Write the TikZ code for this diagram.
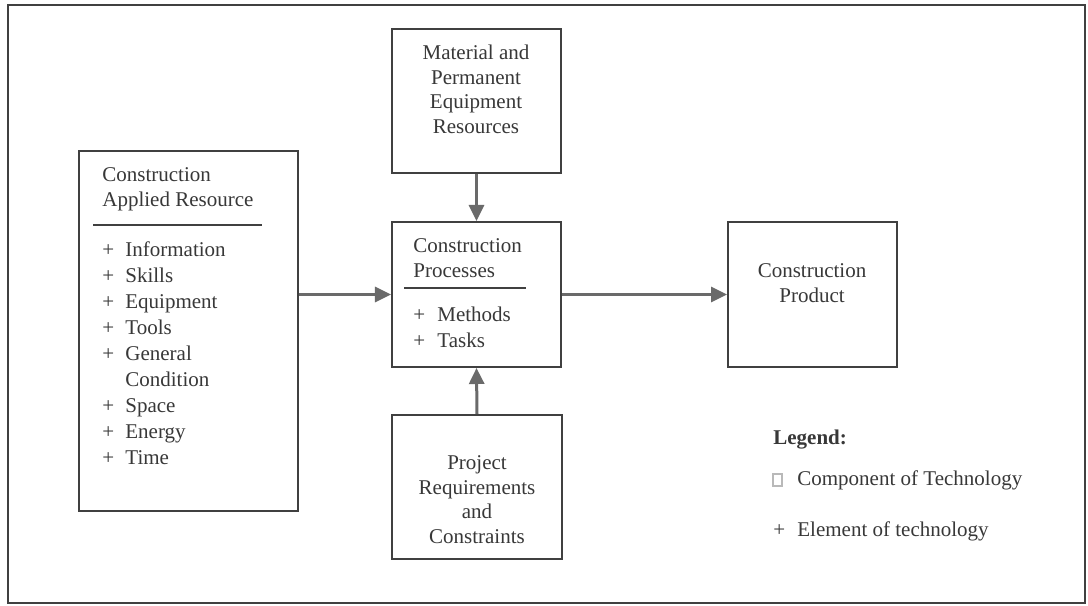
\documentclass[tikz,border=0pt]{standalone}
\usepackage{fontspec}
\setmainfont{Liberation Serif}
\usetikzlibrary{arrows.meta}
\definecolor{ink}{HTML}{383838}
\definecolor{edge}{HTML}{404040}
\definecolor{flow}{HTML}{6A6A6A}
\newcommand\plusmark[1]{\makebox[#1][l]{+}}
\begin{document}
\begin{tikzpicture}[x=0.5bp,y=-0.5bp,
  every node/.style={font=\fontsize{10.5bp}{12.6bp}\selectfont, text=ink, inner sep=0pt},
  box/.style={draw=edge, line width=1bp, rectangle},
  lbl/.style={anchor=base west},
  ctr/.style={anchor=base},
  flowarrow/.style={draw=flow, line width=1.5bp, -{Triangle[length=8bp,width=7.5bp]}},
  rule/.style={draw=edge, line width=0.9bp}]

% page and outer frame
\fill[white] (0,0) rectangle (1088,606);
\useasboundingbox (0,0) rectangle (1088,606);
\draw[edge, line width=1bp] (8,5) rectangle (1085,603);

% boxes
\node[box, minimum width=109.5bp, minimum height=180bp] (car) at (188.5,331) {};
\node[box, minimum width=84.5bp, minimum height=72bp] (mat) at (476.5,101) {};
\node[box, minimum width=84.5bp, minimum height=72.5bp] (proc) at (476.5,294.5) {};
\node[box, minimum width=85bp, minimum height=72bp] (proj) at (477,487) {};
\node[box, minimum width=84.5bp, minimum height=72.5bp] (prod) at (812.5,294.5) {};

% construction applied resource
\foreach \t/\y [count=\i] in {Construction/182, Applied Resource/207}
  \node[lbl] (carhead\i) at (102,\y) {\t};
\draw[rule] (93,225) -- (262,225);
\foreach \t/\y [count=\i] in {Information/257, Skills/283, Equipment/309, Tools/335, General/361, Space/413, Energy/439, Time/465}
  \node[lbl] (caritem\i) at (102,\y) {\plusmark{11.5bp}\t};
\node[lbl] (carcond) at (125,387) {Condition};

% construction processes
\foreach \t/\y [count=\i] in {Construction/253, Processes/278}
  \node[lbl] (prochead\i) at (413,\y) {\t};
\draw[rule] (404,288) -- (526,288);
\foreach \t/\y [count=\i] in {Methods/322, Tasks/348}
  \node[lbl] (procitem\i) at (413,\y) {\plusmark{12bp}\t};

% material and permanent equipment
\foreach \t/\y [count=\i] in {Material and/60, Permanent/84.5, Equipment/109, Resources/133.5}
  \node[ctr] (mattext\i) at (476,\y) {\t};

% project requirements
\foreach \t/\y [count=\i] in {Project/470, Requirements/494.5, and/519, Constraints/543.5}
  \node[ctr] (projtext\i) at (477,\y) {\t};

% product
\foreach \t/\y [count=\i] in {Construction/278, Product/303}
  \node[ctr] (prodtext\i) at (812,\y) {\t};

% flows
\draw[flowarrow] (car.east |- proc.west) -- (proc.west);
\draw[flowarrow] (proc.east) -- (prod.west);
\draw[flowarrow] (mat.south) -- (proc.north);
\draw[flowarrow] (proj.north) -- (proc.south);

% legend
\node[lbl, font=\fontsize{10.5bp}{12.6bp}\selectfont\bfseries] (leghead) at (773,445) {Legend:};
\node[draw=gray!55, line width=0.6bp, minimum width=4.5bp, minimum height=6bp] (legsq) at (777.5,480) {};
\node[lbl] (legcomp) at (797,486) {Component of Technology};
\node[lbl] (legelem) at (773,537) {\plusmark{12bp}Element of technology};
\end{tikzpicture}
\end{document}
